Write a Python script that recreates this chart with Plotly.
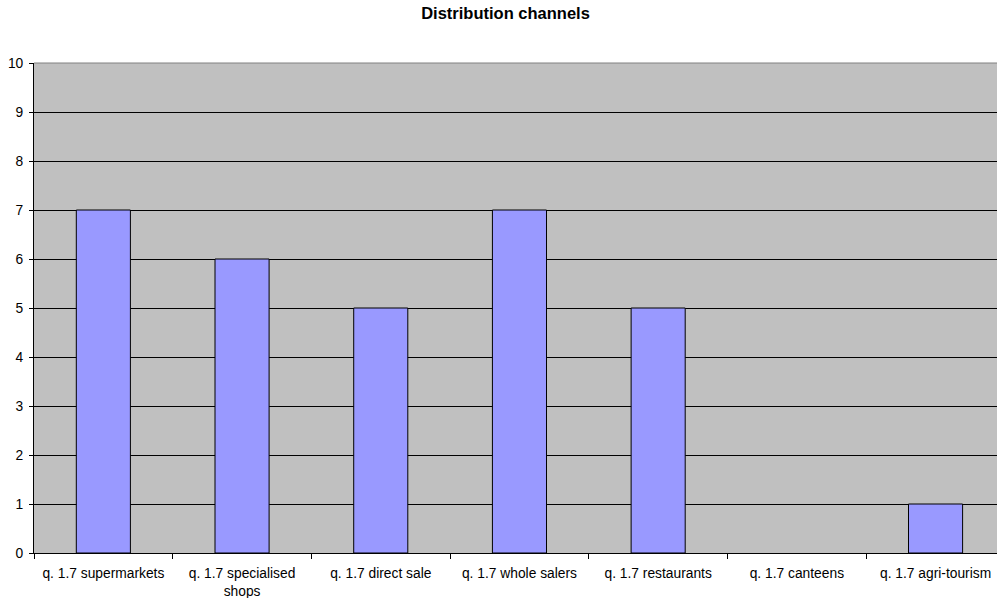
import plotly.graph_objects as go

categories = [
    "q. 1.7 supermarkets",
    "q. 1.7 specialised<br>shops",
    "q. 1.7 direct sale",
    "q. 1.7 whole salers",
    "q. 1.7 restaurants",
    "q. 1.7 canteens",
    "q. 1.7 agri-tourism",
]
counts = [7, 6, 5, 7, 5, 0, 1]
y_ticks = list(range(0, 11))

# zero-height bars get no outline so nothing is drawn for them
outline_widths = [1 if v > 0 else 0 for v in counts]

fig = go.Figure(
    go.Bar(
        x=categories,
        y=counts,
        marker=dict(color="#9999FF", line=dict(color="#000000", width=outline_widths)),
        width=0.39,
    )
)

font = "Liberation Sans, Arial, sans-serif"

fig.update_layout(
    width=997,
    height=598,
    margin=dict(l=34, r=0, t=63, b=45),
    paper_bgcolor="white",
    plot_bgcolor="#C0C0C0",
    showlegend=False,
    title=dict(
        text="<b>Distribution channels</b>",
        x=505.5 / 997,
        xanchor="center",
        y=1 - 13.5 / 598,
        yanchor="middle",
        font=dict(family=font, size=16.5, color="#000000"),
    ),
    font=dict(family=font, size=13.5, color="#000000"),
)

fig.update_xaxes(
    type="category",
    showgrid=False,
    showline=True,
    linecolor="#000000",
    linewidth=1,
    ticks="outside",
    tickson="boundaries",
    ticklen=5,
    tickcolor="#000000",
    ticklabelstandoff=7,
    tickfont=dict(family=font, size=13.8, color="#000000"),
    range=[-0.5, 6.443],
)

fig.update_yaxes(
    range=[0, 10],
    tickvals=y_ticks,
    showgrid=True,
    gridcolor="#000000",
    gridwidth=1,
    showline=True,
    linecolor="#000000",
    linewidth=1,
    ticks="outside",
    ticklen=4,
    tickcolor="#000000",
    ticklabelstandoff=3,
    tickfont=dict(family=font, size=13.8, color="#000000"),
    zeroline=False,
    mirror=False,
)

# grey frame along the top edge of the plot area
fig.add_shape(
    type="line", xref="paper", yref="paper",
    x0=0, x1=1, y0=1, y1=1,
    line=dict(color="#808080", width=1),
)

fig.write_html("out.html")
